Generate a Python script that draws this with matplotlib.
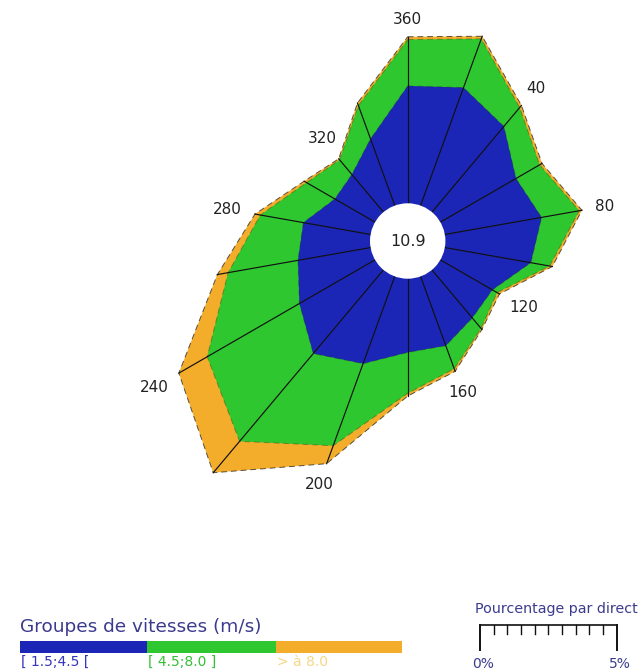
import numpy as np
import matplotlib
matplotlib.use("Agg")
import matplotlib.pyplot as plt
from matplotlib.patches import Polygon, Circle, Rectangle

# Wind directions (degrees, clockwise from north) and frequency (%) per speed class
directions = np.arange(0, 360, 20)
freq_low = [4.3, 4.6, 4.1, 3.2, 3.6, 3.2, 2.2, 2.3, 2.7,
            2.7, 3.4, 4.0, 3.2, 2.7, 2.5, 1.7, 1.8, 2.6]      # [1.5;4.5[
freq_mid = [1.7, 1.9, 0.9, 1.0, 1.4, 0.7, 0.2, 0.5, 0.9,
            1.5, 3.2, 4.2, 3.9, 2.6, 1.6, 1.2, 0.7, 1.3]      # [4.5;8.0]
freq_high = [0.1, 0.1, 0.1, 0.1, 0.1, 0.1, 0.1, 0.05, 0.1,
             0.1, 0.7, 1.5, 1.2, 0.4, 0.2, 0.1, 0.05, 0.1]    # > 8.0
calm = 10.9
speed_labels = ["[ 1.5;4.5 [", "[ 4.5;8.0 ]", "> à 8.0"]
label_dirs = [360, 40, 80, 120, 160, 200, 240, 280, 320]
scale_ticks = np.arange(0, 5.01, 0.5)
scale_labels = ["0%", "5%"]

colors = ["#1c26b6", "#2fc72f", "#f4ad2b"]
text_colors = ["#3535bd", "#36bf36", "#f3d886"]
title_color = "#3b3b8e"

W, H = 643, 670
PX = 27.3                # pixels per percent
CX, CY = 407.7, 241.0    # rose centre (pixels from top-left)
hole = 37.7 / PX         # radius of the calm circle, in percent units

fig = plt.figure(figsize=(W / 100, H / 100), dpi=100)
ax = fig.add_axes([0, 0, 1, 1])
ax.set_xlim(-CX / PX, (W - CX) / PX)
ax.set_ylim(-(H - CY) / PX, CY / PX)
ax.axis("off")

theta = np.deg2rad(directions)
cum = np.cumsum(np.vstack([freq_low, freq_mid, freq_high]), axis=0)

# filled rings, outermost first
for level in range(2, -1, -1):
    r = hole + cum[level]
    xy = np.column_stack([r * np.sin(theta), r * np.cos(theta)])
    ax.add_patch(Polygon(xy, closed=True, facecolor=colors[level],
                         edgecolor="none", zorder=1 + (2 - level)))
    ax.add_patch(Polygon(xy, closed=True, facecolor="none",
                         edgecolor="#222222", lw=0.7,
                         linestyle=(0, (6, 4)),
                         alpha=0.75 if level == 2 else 0.35, zorder=5))

# spokes from the calm circle to the outer vertex
r_out = hole + cum[2]
for t, ro in zip(theta, r_out):
    ax.plot([hole * np.sin(t), ro * np.sin(t)],
            [hole * np.cos(t), ro * np.cos(t)],
            color="#111111", lw=0.85, zorder=6)

# calm circle
ax.add_patch(Circle((0, 0), hole, facecolor="white", edgecolor="none", zorder=7))
ax.text(0, 0, f"{calm:.1f}", ha="center", va="center", fontsize=11.5,
        color="#222222", zorder=8)

# direction labels, pushed out past the outer vertex
gap = 12 / PX
for d in label_dirs:
    idx = (d % 360) // 20
    t = np.deg2rad(d % 360)
    w = (10 * len(str(d))) / PX
    h = 11 / PX
    rr = r_out[idx] + gap + abs(np.sin(t)) * w / 2 + abs(np.cos(t)) * h / 2
    ax.text(rr * np.sin(t), rr * np.cos(t), str(d), ha="center", va="center",
            fontsize=11, color="#222222", zorder=8)

# percentage scale bar (same scale as the rose)
x0 = (480 - CX) / PX
y_top = (CY - 625) / PX
ax.plot([x0, x0 + scale_ticks[-1]], [y_top, y_top], color="#111111", lw=1.2,
        solid_capstyle="butt")
for i, s in enumerate(scale_ticks):
    length = 25 / PX if i in (0, len(scale_ticks) - 1) else 9 / PX
    ax.plot([x0 + s, x0 + s], [y_top, y_top - length], color="#111111",
            lw=1.4 if length > 10 / PX else 1.0)
for s, lab in zip([scale_ticks[0], scale_ticks[-1]], scale_labels):
    ax.text(x0 + s + 3 / PX, (CY - 657) / PX, lab, ha="center", va="top",
            fontsize=10, color=title_color)
ax.text((475 - CX) / PX, (CY - 613) / PX, "Pourcentage par direct",
        ha="left", va="baseline", fontsize=10.3, color=title_color)

# speed-class legend
ax.text((20 - CX) / PX, (CY - 632.5) / PX, "Groupes de vitesses (m/s)",
        ha="left", va="baseline", fontsize=13.3, color=title_color)
edges = [20, 147, 276, 402]
for i in range(3):
    ax.add_patch(Rectangle(((edges[i] - CX) / PX, (CY - 653) / PX),
                           (edges[i + 1] - edges[i]) / PX, 12 / PX,
                           facecolor=colors[i], edgecolor="none"))
    ax.text((edges[i] + 1 - CX) / PX, (CY - 655) / PX, speed_labels[i],
            ha="left", va="top", fontsize=10, color=text_colors[i])

fig.savefig("out.png", dpi=100)
